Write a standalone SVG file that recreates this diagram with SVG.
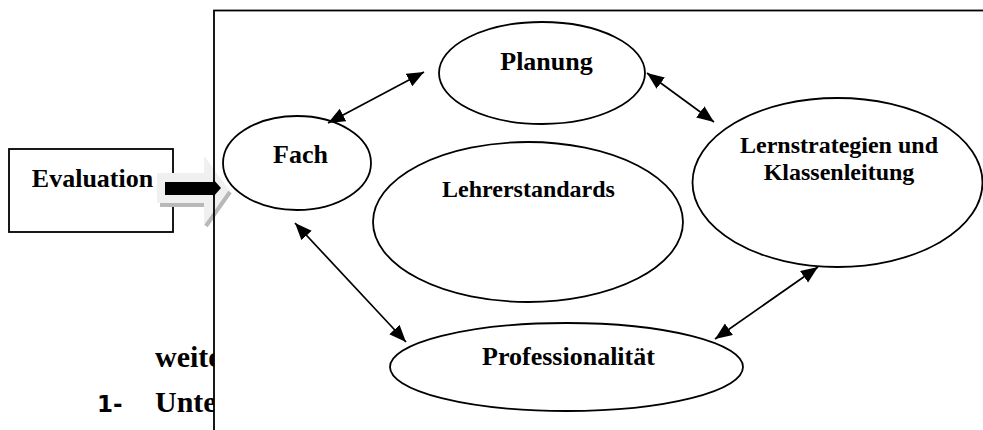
<svg xmlns="http://www.w3.org/2000/svg" width="983" height="430" viewBox="0 0 983 430">
  <style>
    .lbl { font-family: "Liberation Serif", "Times New Roman", serif; font-weight: bold; font-size: 25px; fill: #000; text-anchor: middle; }
    .body { font-family: "Liberation Serif", "Times New Roman", serif; font-weight: bold; font-size: 30px; fill: #000; }
    .num { font-family: "DejaVu Sans", sans-serif; font-weight: bold; font-size: 23px; fill: #000; }
    .node { fill: none; stroke: #000; stroke-width: 1.8; }
    .conn { stroke: #000; stroke-width: 1.7; fill: none; marker-start: url(#ah); marker-end: url(#ah); }
  </style>
  <defs>
    <marker id="ah" markerUnits="userSpaceOnUse" markerWidth="18" markerHeight="15" refX="17" refY="7" orient="auto-start-reverse">
      <path d="M0,0 L17,7 L0,14 z" fill="#000"/>
    </marker>
    <clipPath id="outside">
      <rect x="0" y="0" width="214" height="430"/>
    </clipPath>
  </defs>
  <rect x="0" y="0" width="983" height="430" fill="#fff"/>

  <g id="bodytext" clip-path="url(#outside)">
    <text class="body" x="155" y="367">weite</text>
    <text class="num" x="97" y="412">1-</text>
    <text class="body" x="155" y="412">Unte</text>
  </g>

  <g id="evaluation">
    <rect x="9" y="149" width="164" height="83" fill="#fff" stroke="#000" stroke-width="1.8"/>
    <text class="lbl" x="92.5" y="187" style="font-size:26px">Evaluation</text>
  </g>

  <g id="bigarrow">
    <polygon points="157,173 204,173 204,156 230,191 204,226 204,203 157,203" fill="#f0f0f0"/>
    <rect x="160" y="203" width="44" height="4" fill="#b8b8b8"/>
    <line x1="206" y1="226" x2="230" y2="192" stroke="#b8b8b8" stroke-width="4"/>
    <polygon points="165,182 213,182 213,179 221,188 213,197 213,195 165,195" fill="#000"/>
  </g>

  <rect id="frame" x="214" y="10.5" width="800" height="500" fill="none" stroke="#000" stroke-width="1.8"/>

  <g id="connectors">
    <line class="conn" x1="328" y1="123" x2="424" y2="72"/>
    <line class="conn" x1="647" y1="73" x2="714" y2="122"/>
    <line class="conn" x1="295" y1="223" x2="406" y2="342"/>
    <line class="conn" x1="818" y1="267" x2="715" y2="339"/>
  </g>

  <g id="planung">
    <ellipse class="node" cx="542" cy="73" rx="103" ry="51"/>
    <text class="lbl" x="546.5" y="70" style="font-size:26px">Planung</text>
  </g>
  <g id="fach">
    <ellipse class="node" cx="297" cy="163" rx="74" ry="47"/>
    <text class="lbl" x="300.5" y="163" style="font-size:26px">Fach</text>
  </g>
  <g id="lehrerstandards">
    <ellipse class="node" cx="528" cy="222" rx="155" ry="80"/>
    <text class="lbl" x="528.5" y="197" style="font-size:24px">Lehrerstandards</text>
  </g>
  <g id="lernstrategien">
    <ellipse class="node" cx="837.5" cy="182.5" rx="145" ry="84.5"/>
    <text class="lbl" x="839" y="153" style="font-size:24px">Lernstrategien und</text>
    <text class="lbl" x="839" y="180" style="font-size:24px">Klassenleitung</text>
  </g>
  <g id="professionalitaet">
    <ellipse class="node" cx="566.5" cy="367" rx="176.5" ry="44"/>
    <text class="lbl" x="568.5" y="365" style="font-size:26px">Professionalität</text>
  </g>
</svg>
